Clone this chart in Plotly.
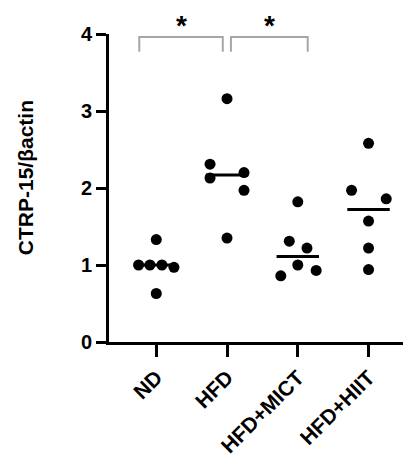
import plotly.graph_objects as go

groups = ["ND", "HFD", "HFD+MICT", "HFD+HIIT"]
values = [
    [1.00, 1.00, 1.00, 0.97, 1.33, 0.63],
    [3.16, 2.31, 2.13, 2.20, 1.97, 1.35],
    [1.82, 1.31, 1.22, 1.00, 0.86, 0.93],
    [2.58, 1.97, 1.86, 1.57, 1.22, 0.94],
]
jitter = [
    [-0.25, -0.09, 0.08, 0.25, 0.0, 0.0],
    [0.0, -0.24, -0.24, 0.24, 0.24, 0.0],
    [0.0, -0.12, 0.13, 0.0, -0.24, 0.26],
    [0.0, -0.24, 0.25, 0.0, 0.0, 0.0],
]
medians = [1.00, 2.17, 1.11, 1.72]
comparisons = [(0, 1, "*"), (1, 2, "*")]
y_title = "CTRP-15/βactin"
y_ticks = [0, 1, 2, 3, 4]

FONT = "Liberation Sans, Arial, sans-serif"

fig = go.Figure()

half = 0.3
for i, (vals, jit, med) in enumerate(zip(values, jitter, medians)):
    fig.add_trace(go.Scatter(
        x=[i - half, i + half], y=[med, med], mode="lines",
        line=dict(color="black", width=3), showlegend=False, hoverinfo="skip"))
    fig.add_trace(go.Scatter(
        x=[i + j for j in jit], y=vals, mode="markers",
        marker=dict(color="black", size=11, line=dict(width=0)),
        showlegend=False, name=groups[i]))

shapes = []
annotations = []
for a, b, label in comparisons:
    x0 = a - 0.24 if a == 0 else a + 0.055
    x1 = b - 0.06 if a == 0 else b + 0.14
    shapes.append(dict(
        type="path", xref="x", yref="y",
        path=f"M {x0} 3.77 L {x0} 3.96 L {x1} 3.96 L {x1} 3.77",
        line=dict(color="#a6a6a6", width=2)))
    annotations.append(dict(
        x=(x0 + x1) / 2, y=1.026, xref="x", yref="paper", text=label,
        showarrow=False, font=dict(family=FONT, size=28, color="black", weight="bold"),
        yanchor="middle"))

annotations.append(dict(
    x=-0.278, y=0.532, xref="paper", yref="paper", text=y_title, textangle=-90,
    showarrow=False, xanchor="center", yanchor="middle",
    font=dict(family=FONT, size=21, color="black", weight="bold")))

fig.update_layout(
    width=403, height=453,
    margin=dict(l=101, r=0, t=26, b=119),
    plot_bgcolor="white", paper_bgcolor="white",
    shapes=shapes, annotations=annotations,
    font=dict(family=FONT, color="black"),
)
fig.update_xaxes(
    range=[-0.668, 3.6], tickmode="array", tickvals=list(range(len(groups))),
    ticktext=groups, tickangle=-45, ticks="outside", ticklen=12, tickwidth=3,
    tickcolor="black", showline=True, linecolor="black", linewidth=3,
    showgrid=False, zeroline=False, automargin=False,
    tickfont=dict(family=FONT, size=21, color="black", weight="bold"),
)
fig.update_yaxes(
    range=[0, 4], tickvals=y_ticks, ticks="outside", ticklen=10, tickwidth=3,
    tickcolor="black", showline=True, linecolor="black", linewidth=3,
    showgrid=False, zeroline=False, automargin=False,
    tickfont=dict(family=FONT, size=20, color="black", weight="bold"),
)

fig.write_html("out.html")
